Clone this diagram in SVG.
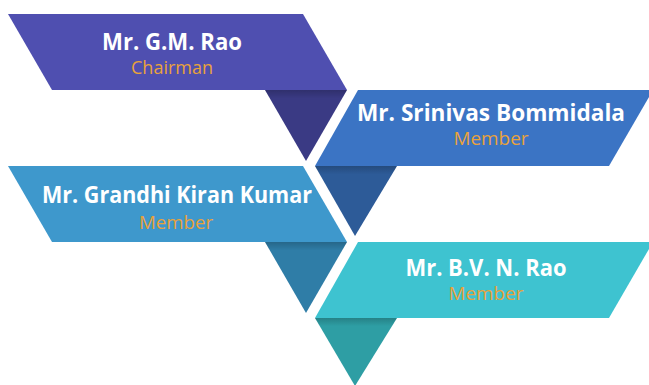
<svg xmlns="http://www.w3.org/2000/svg" width="649" height="385" viewBox="0 0 649 385">
  <defs>
    <!-- soft shadow at the top of each fold triangle -->
    <linearGradient id="foldShade" x1="0" y1="0" x2="0" y2="1">
      <stop offset="0" stop-color="#000" stop-opacity="0.18"/>
      <stop offset="0.12" stop-color="#000" stop-opacity="0"/>
    </linearGradient>
    <style>
      .name { font-family: "Open Sans", "Liberation Sans", sans-serif; font-weight: 700; font-size: 23px; fill: #ffffff; text-anchor: middle; }
      .role { font-family: "Open Sans", "Liberation Sans", sans-serif; font-weight: 400; font-size: 18px; fill: #E9A23B; text-anchor: middle; }
    </style>
  </defs>

  <rect width="649" height="385" fill="#ffffff"/>

  <!-- Chairman -->
  <g id="node-gm-rao">
    <polygon points="8,14 303,14 347,90 52,90" fill="#4F4FB0"/>
    <polygon points="265,90 347,90 306,161" fill="#3A3A84"/>
    <polygon points="265,90 347,90 306,161" fill="url(#foldShade)"/>
    <text class="name" x="172" y="50" textLength="140" lengthAdjust="spacingAndGlyphs">Mr. G.M. Rao</text>
    <text class="role" x="172" y="74" textLength="82" lengthAdjust="spacingAndGlyphs">Chairman</text>
  </g>

  <!-- Member: Srinivas Bommidala -->
  <g id="node-srinivas-bommidala">
    <polygon points="358,90 653,90 609,166 315,166" fill="#3B74C4"/>
    <polygon points="315,166 397,166 355,236" fill="#2D5B98"/>
    <polygon points="315,166 397,166 355,236" fill="url(#foldShade)"/>
    <text class="name" x="491" y="121" textLength="268" lengthAdjust="spacingAndGlyphs">Mr. Srinivas Bommidala</text>
    <text class="role" x="491" y="145" textLength="75" lengthAdjust="spacingAndGlyphs">Member</text>
  </g>

  <!-- Member: Grandhi Kiran Kumar -->
  <g id="node-grandhi-kiran-kumar">
    <polygon points="8,166 303,166 347,242 52,242" fill="#3E98CC"/>
    <polygon points="265,242 347,242 306,313" fill="#2F7DA7"/>
    <polygon points="265,242 347,242 306,313" fill="url(#foldShade)"/>
    <text class="name" x="177" y="203" textLength="270" lengthAdjust="spacingAndGlyphs">Mr. Grandhi Kiran Kumar</text>
    <text class="role" x="176" y="229" textLength="74" lengthAdjust="spacingAndGlyphs">Member</text>
  </g>

  <!-- Member: B.V. N. Rao -->
  <g id="node-bvn-rao">
    <polygon points="358,242 653,242 609,318 315,318" fill="#3EC3D0"/>
    <polygon points="315,318 397,318 355,386" fill="#2E9EA4"/>
    <polygon points="315,318 397,318 355,386" fill="url(#foldShade)"/>
    <text class="name" x="486" y="276" textLength="161" lengthAdjust="spacingAndGlyphs">Mr. B.V. N. Rao</text>
    <text class="role" x="486" y="300" textLength="75" lengthAdjust="spacingAndGlyphs">Member</text>
  </g>

  <!-- no connectors: the fold triangles join the cards -->
  <g id="connectors"></g>
</svg>
